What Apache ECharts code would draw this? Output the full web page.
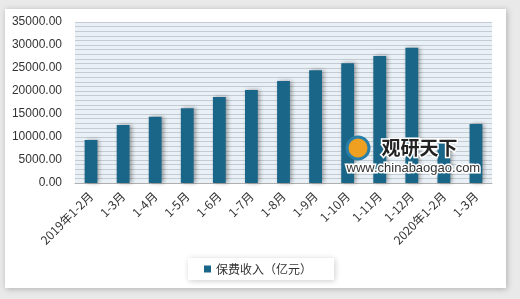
<!DOCTYPE html>
<html><head><meta charset="utf-8">
<script src="https://cdn.jsdelivr.net/npm/echarts@6/dist/echarts.min.js"></script>
<style>html,body{margin:0;padding:0;background:#e9e9e9;}#c{width:520px;height:299px;}</style>
</head><body><div id="c"></div>
<script>
const categories = ['2019年1-2月','1-3月','1-4月','1-5月','1-6月','1-7月','1-8月','1-9月','1-10月','1-11月','1-12月','2020年1-2月','1-3月'];
const premiumValues = [9350, 12610, 14420, 16230, 18700, 20220, 22170, 24500, 26020, 27610, 29420, 9000, 12830];
const seriesName = '保费收入（亿元）';
const yMin = 0, yMax = 35000, yInterval = 5000;

const chart = echarts.init(document.getElementById('c'), null, {renderer:'canvas'});
chart.setOption({
  animation:false,
  backgroundColor:'transparent',
  graphic:[
    {type:'rect', z:-10, shape:{x:5,y:9,width:501,height:279}, style:{fill:'#fff', shadowBlur:6, shadowColor:'rgba(0,0,0,0.25)', shadowOffsetX:1, shadowOffsetY:1}},
    {type:'text', z:100, left:380, top:137, style:{text:'观研天下', font:'bold 19px "Noto Sans CJK SC"', fill:'#222', stroke:'#fff', lineWidth:3}},
    {type:'text', z:100, left:345, top:160, style:{text:'www.chinabaogao.com', font:'13px "Liberation Sans"', fill:'#333', stroke:'#fff', lineWidth:3}},
    {type:'circle', z:100, shape:{cx:358, cy:148, r:11}, style:{fill:'#f0a020', stroke:'#2a7fa8', lineWidth:3}}
  ],
  grid:{left:75, right:28, top:22, bottom:116, backgroundColor:'#eaf1f6', show:true, borderWidth:0},
  legend:{
    data:[seriesName], left:188, top:258, itemWidth:7, itemHeight:7, icon:'rect',
    backgroundColor:'#fff', shadowBlur:6, shadowColor:'rgba(0,0,0,0.2)', shadowOffsetX:1, shadowOffsetY:1,
    padding:[5,22,5,16], itemGap:4,
    textStyle:{fontSize:12, color:'#333', fontFamily:'"Noto Sans CJK SC"'}
  },
  xAxis:{
    type:'category', data:categories,
    axisLine:{lineStyle:{color:'#b0b0b0'}}, axisTick:{show:false},
    axisLabel:{interval:0, rotate:45, fontSize:12, color:'#333', margin:11, fontFamily:'"Noto Sans CJK SC"'}
  },
  yAxis:{
    type:'value', min:yMin, max:yMax, interval:yInterval,
    axisLine:{show:false}, axisTick:{show:false},
    axisLabel:{fontSize:12, color:'#333', margin:13, formatter:v=>v.toFixed(2), fontFamily:'"Liberation Sans"'},
    splitLine:{lineStyle:{color:'#c5cbd3', width:1}},
    minorTick:{show:false, splitNumber:5},
    minorSplitLine:{show:true, lineStyle:{color:'#c5cbd3', width:1}}
  },
  series:[{
    name:seriesName, type:'bar', data:premiumValues, barWidth:'40%',
    itemStyle:{color:'#1a6688', shadowBlur:4, shadowColor:'rgba(0,0,0,0.35)', shadowOffsetX:2, shadowOffsetY:0}
  }]
});
</script></body></html>
